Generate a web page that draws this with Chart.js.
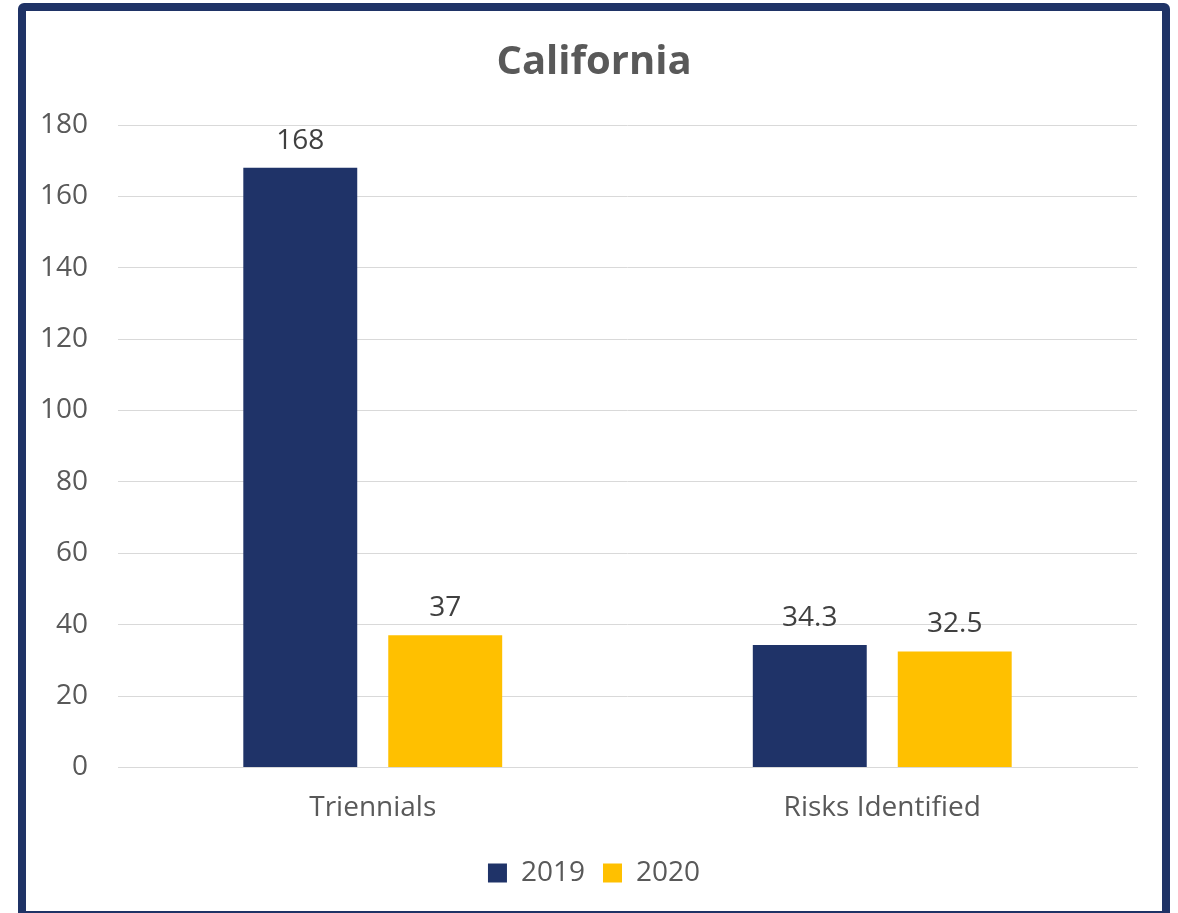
<!DOCTYPE html>
<html lang="en">
<head>
    <meta charset="UTF-8">
    <title>California</title>
    <script src="https://cdn.jsdelivr.net/npm/chart.js"></script>
    <style>
        body {
            margin: 0;
            background: white;
        }
        .frame {
            position: absolute;
            left: 18px;
            top: 3px;
            width: 1152px;
            height: 916px;
            box-sizing: border-box;
            border: 8px solid #1f3366;
            border-radius: 6px;
            background: white;
        }
        .frame canvas {
            display: block;
        }
    </style>
</head>
<body>
    <div class="frame">
        <canvas id="caChart" width="1136" height="900"></canvas>
    </div>

    <script>
        // data
        const categories = ['Triennials', 'Risks Identified'];
        const seriesNames = ['2019', '2020'];
        const values2019 = [168, 34.3];
        const values2020 = [37, 32.5];
        const yTicks = [0, 20, 40, 60, 80, 100, 120, 140, 160, 180];

        const navy = '#1f3368';
        const gold = '#ffc000';
        const fontFamily = '"Open Sans", Lato, sans-serif';

        // draws the number above every bar
        const valueLabels = {
            id: 'valueLabels',
            afterDatasetsDraw(chart) {
                const ctx = chart.ctx;
                ctx.save();
                ctx.font = '28px ' + fontFamily;
                ctx.fillStyle = '#404040';
                ctx.textAlign = 'center';
                ctx.textBaseline = 'bottom';
                chart.data.datasets.forEach((ds, i) => {
                    chart.getDatasetMeta(i).data.forEach((bar, j) => {
                        ctx.fillText(String(ds.data[j]), bar.x, bar.y - 13);
                    });
                });
                ctx.restore();
            }
        };

        new Chart(document.getElementById('caChart'), {
            type: 'bar',
            data: {
                labels: categories,
                datasets: [
                    { label: seriesNames[0], data: values2019, backgroundColor: navy },
                    { label: seriesNames[1], data: values2020, backgroundColor: gold }
                ]
            },
            options: {
                responsive: false,
                animation: false,
                categoryPercentage: 0.569,
                barPercentage: 0.786,
                layout: {
                    padding: { left: 0, right: 0, top: 10, bottom: 14 }
                },
                scales: {
                    x: {
                        grid: { display: false },
                        border: { color: '#d9d9d9', width: 1 },
                        ticks: {
                            color: '#595959',
                            font: { family: fontFamily, size: 28 },
                            padding: 16
                        }
                    },
                    y: {
                        min: 0,
                        max: 180,
                        afterBuildTicks(axis) {
                            axis.ticks = yTicks.map(v => ({ value: v }));
                        },
                        afterFit(axis) {
                            axis.width = 92;
                        },
                        grid: { color: '#d9d9d9', lineWidth: 1, drawTicks: false },
                        border: { display: false },
                        ticks: {
                            color: '#595959',
                            font: { family: fontFamily, size: 28 },
                            padding: 30
                        }
                    },
                    // empty axis that only keeps the right margin, so title and legend stay centred
                    yRight: {
                        position: 'right',
                        grid: { display: false },
                        border: { display: false },
                        ticks: { display: false },
                        afterFit(axis) {
                            axis.width = 25;
                        }
                    }
                },
                plugins: {
                    title: {
                        display: true,
                        text: 'California',
                        color: '#595959',
                        font: { family: fontFamily, size: 40, weight: 'bold' },
                        padding: { top: 18, bottom: 38 }
                    },
                    legend: {
                        position: 'bottom',
                        labels: {
                            color: '#595959',
                            font: { family: fontFamily, size: 28 },
                            boxWidth: 19,
                            boxHeight: 19,
                            padding: 18
                        }
                    },
                    tooltip: { enabled: false }
                }
            },
            plugins: [valueLabels]
        });
    </script>
</body>
</html>
